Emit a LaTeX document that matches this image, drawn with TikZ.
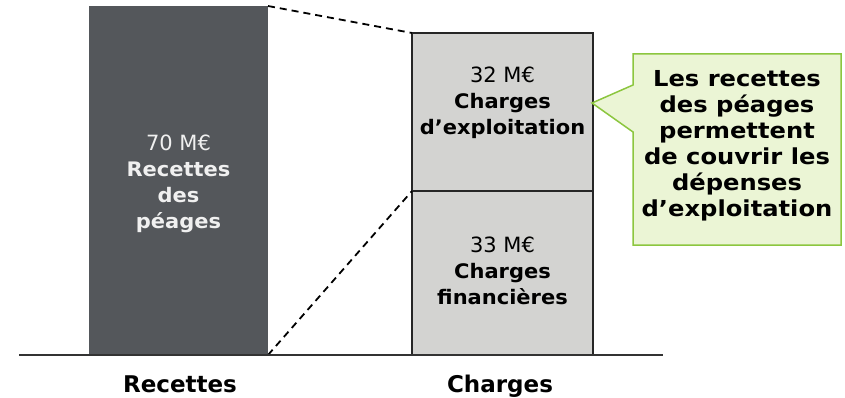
\documentclass[tikz,border=0pt]{standalone}
\usepackage{fontspec}
\setmainfont{DejaVu Sans}
\newfontfamily\barbold[FakeStretch=1.05]{DejaVu Sans Bold}
\newfontfamily\notefont[FakeStretch=1.1]{DejaVu Sans Bold}
\definecolor{darkbar}{HTML}{54575B}
\definecolor{lightbar}{HTML}{D3D3D1}
\definecolor{callfill}{HTML}{EBF5D5}
\definecolor{callline}{HTML}{8CC63F}
\newcommand{\amount}[1]{{\fontsize{21}{26}\selectfont #1}}
\begin{document}
\begin{tikzpicture}[x=1pt,y=-1pt,
  bartext/.style={align=center,font=\fontsize{20}{26}\selectfont,inner sep=0pt},
  axislabel/.style={font=\bfseries\fontsize{23}{26}\selectfont,inner sep=0pt,anchor=base},
  guide/.style={line width=1.8pt,dash pattern=on 7pt off 5pt},
  barbox/.style={fill=lightbar,line width=1.5pt,draw=black!85}]
\useasboundingbox (0,0) rectangle (845,398);
% bars
\fill[darkbar] (89,6) rectangle (268,355);
\draw[barbox] (412,33) rectangle (593,191);
\draw[barbox] (412,191) rectangle (593,355);
\coordinate (rtop) at (268,6);
\coordinate (rbot) at (268,355);
\coordinate (ctop) at (412,33);
\coordinate (cmid) at (412,191);
\draw[guide] (rtop) -- (ctop);
\draw[guide] (rbot) -- (cmid);
% axis
\coordinate (axl) at (19,355);
\coordinate (axr) at (663,355);
\draw[line width=1.5pt,draw=black!80] (axl) -- (axr);
% bar texts
\node[bartext,text=white!94!black] (rec) at (178.5,184) {\amount{70 M€}\\{\barbold Recettes}\\{\barbold des}\\{\barbold péages}};
\node[bartext] (exp) at (502.5,103) {\amount{32 M€}\\{\barbold Charges}\\{\barbold d’exploitation}};
\node[bartext] (fin) at (502.5,271) {\amount{33 M€}\\{\barbold Charges}\\{\barbold financières}};
% axis labels
\node[axislabel] (lrec) at (180,392) {Recettes};
\node[axislabel] (lch) at (500,392) {Charges};
% callout
\coordinate (tip) at (592,103);
\draw[fill=callfill,draw=callline,line width=1.5pt,line join=miter]
  (633,54) -- (841,54) -- (841,245) -- (633,245) -- (633,132) -- (tip) -- (633,85) -- cycle;
\node[bartext,font=\notefont\fontsize{22}{26}\selectfont] (note) at (737,146)
  {Les recettes\\des péages\\permettent\\de couvrir les\\dépenses\\d’exploitation};
\end{tikzpicture}
\end{document}
